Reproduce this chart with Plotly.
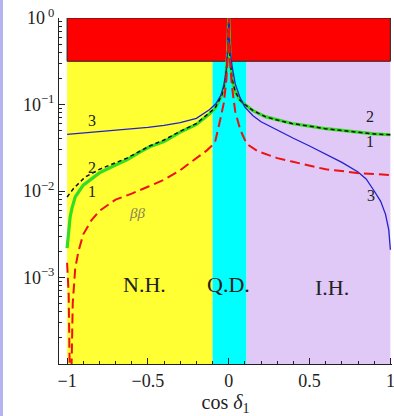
import math
import plotly.graph_objects as go

# ---- data -----------------------------------------------------------------
# curve 3 (blue)
x3 = [-1.0, -0.9, -0.8, -0.7, -0.6, -0.5, -0.4, -0.3, -0.2, -0.12, -0.08, -0.05,
      -0.03, -0.015, -0.006, -0.002, 0.0, 0.002, 0.006, 0.015, 0.02, 0.04, 0.07,
      0.1, 0.15, 0.2, 0.3, 0.4, 0.5, 0.6, 0.7, 0.8, 0.85, 0.9, 0.94, 0.97, 0.99, 1.0]
y3 = [0.0452, 0.0468, 0.0484, 0.0501, 0.0519, 0.0543, 0.0575, 0.0617, 0.0692, 0.0871,
      0.102, 0.126, 0.166, 0.251, 0.447, 0.794, 1.0, 0.794, 0.479, 0.331, 0.282,
      0.174, 0.120, 0.0933, 0.0741, 0.0631, 0.0501, 0.0407, 0.0331, 0.0269, 0.0214,
      0.0166, 0.0138, 0.0100, 0.00759, 0.00537, 0.00355, 0.00209]

# curve 1 (green)
x1 = [-1.0, -0.99, -0.981, -0.97, -0.95, -0.9, -0.8, -0.7, -0.63, -0.55, -0.49, -0.4,
      -0.3, -0.2, -0.12, -0.084, -0.042, -0.02, -0.008, -0.002, 0.0, 0.002, 0.008,
      0.02, 0.04, 0.07, 0.1, 0.15, 0.226, 0.3, 0.391, 0.5, 0.6, 0.7, 0.8, 0.9, 1.0]
y1 = [0.00219, 0.00355, 0.00501, 0.00631, 0.00851, 0.0117, 0.0162, 0.0200, 0.0229,
      0.0282, 0.0324, 0.0372, 0.0479, 0.0589, 0.0776, 0.0904, 0.129, 0.191, 0.355,
      0.708, 1.0, 0.708, 0.355, 0.200, 0.141, 0.112, 0.100, 0.0851, 0.0724, 0.0661,
      0.0603, 0.0562, 0.0525, 0.0501, 0.0479, 0.0457, 0.0447]

# curve 2 (black dashed)
x2 = [-1.0, -0.96, -0.9, -0.88, -0.8, -0.7, -0.63, -0.55, -0.49, -0.4, -0.3, -0.2,
      -0.12, -0.084, -0.042, -0.02, -0.008, -0.002, 0.0, 0.002, 0.008, 0.02, 0.04,
      0.07, 0.1, 0.15, 0.226, 0.3, 0.391, 0.5, 0.6, 0.7, 0.8, 0.9, 1.0]
y2 = [0.00851, 0.0107, 0.0138, 0.0148, 0.0178, 0.0214, 0.0240, 0.0288, 0.0331, 0.0389,
      0.0490, 0.0603, 0.0794, 0.0912, 0.129, 0.191, 0.355, 0.708, 1.0, 0.708, 0.355,
      0.200, 0.141, 0.112, 0.100, 0.0851, 0.0724, 0.0661, 0.0603, 0.0562, 0.0525,
      0.0501, 0.0479, 0.0457, 0.0447]

# beta-beta curve (red dashed)
xbb = [-1.0, -0.99, -0.982, -0.975, -0.965, -0.95, -0.93, -0.9, -0.85, -0.8, -0.7,
       -0.6, -0.5, -0.4, -0.3, -0.24, -0.18, -0.135, -0.1, -0.084, -0.053, -0.03,
       -0.015, -0.006, -0.002, 0.0, 0.002, 0.008, 0.02, 0.04, 0.071, 0.1, 0.122,
       0.18, 0.246, 0.3, 0.391, 0.5, 0.6, 0.7, 0.814, 0.9, 1.0]
ybb = [0.00148, 0.00063, 0.00005, 0.00005, 0.0005, 0.00126, 0.0020, 0.00316, 0.00457,
       0.00589, 0.00794, 0.00933, 0.0112, 0.0135, 0.0174, 0.0209, 0.0251, 0.0295,
       0.0339, 0.0372, 0.0661, 0.105, 0.191, 0.355, 0.661, 1.0, 0.631, 0.316, 0.162,
       0.0832, 0.0513, 0.0389, 0.0339, 0.0288, 0.0263, 0.0240, 0.0219, 0.0195, 0.0178,
       0.0170, 0.0160, 0.0157, 0.0153]

# shaded regions: (x0, x1, y0, y1, colour)
band_x0 = [-1.0, -0.1, 0.11, -1.0]
band_x1 = [-0.1, 0.11, 1.0, 1.0]
band_y0 = [1e-4, 1e-4, 1e-4, 0.316]
band_y1 = [0.316, 0.316, 0.316, 1.0]
band_col = ["#FFFF33", "#00FFFF", "#E0C8F7", "#FF0000"]

region_labels = ["N.H.", "Q.D.", "I.H."]
region_x = [-0.52, 0.0, 0.64]
region_y = [8.2e-4, 8.2e-4, 7.6e-4]

curve_labels = ["3", "2", "1", "2", "1", "3"]
curve_lx = [-0.845, -0.845, -0.845, 0.876, 0.876, 0.88]
curve_ly = [0.066, 0.0186, 0.0098, 0.072, 0.037, 0.0089]

ytick_vals = [1e-3, 1e-2, 1e-1, 1.0]
ytick_text = ["10<sup>−3</sup>", "10<sup>−2</sup>", "10<sup>−1</sup>", "10<sup> 0</sup>"]
xtick_vals = [-1, -0.5, 0, 0.5, 1]
xtick_text = ["−1", "−0.5", "0", "0.5", "1"]

SERIF = "Liberation Serif"

fig = go.Figure()

for a, b, c, d, col in zip(band_x0, band_x1, band_y0, band_y1, band_col):
    is_red = col == "#FF0000"
    fig.add_shape(type="rect", xref="x", yref="y", x0=a, x1=b, y0=c, y1=d,
                  fillcolor=col, layer="below",
                  line=dict(color="#222" if is_red else col, width=1 if is_red else 0))

fig.add_trace(go.Scatter(x=x1, y=y1, mode="lines",
                         line=dict(color="#33DD22", width=3.2), hoverinfo="skip"))
fig.add_trace(go.Scatter(x=x2, y=y2, mode="lines",
                         line=dict(color="#111111", width=1.5, dash="4px,3px"), hoverinfo="skip"))
fig.add_trace(go.Scatter(x=x3, y=y3, mode="lines",
                         line=dict(color="#2222CC", width=1.3), hoverinfo="skip"))
fig.add_trace(go.Scatter(x=xbb, y=ybb, mode="lines",
                         line=dict(color="#EE1111", width=2, dash="10px,5px"), hoverinfo="skip"))

for t, xx, yy in zip(region_labels, region_x, region_y):
    fig.add_annotation(x=xx, y=math.log10(yy), text=t, showarrow=False,
                       font=dict(family=SERIF, size=22, color="#222"))

for t, xx, yy in zip(curve_labels, curve_lx, curve_ly):
    fig.add_annotation(x=xx, y=math.log10(yy), text=t, showarrow=False,
                       font=dict(family=SERIF, size=16, color="#222"))

fig.add_annotation(x=-0.57, y=math.log10(0.0055), text="<i>ββ</i>", showarrow=False,
                   font=dict(family=SERIF, size=15, color="#8a8258"))

# thin lavender frame line at the left edge of the page
fig.add_shape(type="rect", xref="paper", yref="paper",
              x0=-59 / 333, x1=-56 / 333, y0=-52 / 346, y1=1 + 18 / 346,
              fillcolor="#B4B4F0", line=dict(width=0))

fig.update_layout(
    width=394, height=416,
    margin=dict(l=59, r=2, t=18, b=52),
    paper_bgcolor="white", plot_bgcolor="white",
    showlegend=False,
    font=dict(family=SERIF, size=18, color="#222"),
)
fig.update_xaxes(
    range=[-1.05, 1.01], showgrid=False, zeroline=False,
    showline=True, linecolor="#222", linewidth=1,
    ticks="inside", ticklen=6, tickcolor="#222",
    tickvals=xtick_vals, ticktext=xtick_text,
    ticklabeloverflow="allow", automargin=False,
    minor=dict(ticks="inside", ticklen=3, tickcolor="#222",
               tickvals=[v / 10 for v in range(-9, 10) if v % 5 != 0]),
    title=dict(text="cos <i>δ</i><sub>1</sub>", font=dict(family=SERIF, size=20), standoff=2),
)
fig.update_yaxes(
    type="log", range=[-4, 0], showgrid=False, zeroline=False,
    showline=True, linecolor="#222", linewidth=1,
    ticks="inside", ticklen=6, tickcolor="#222",
    tickvals=ytick_vals, ticktext=ytick_text,
    minor=dict(ticks="inside", ticklen=3, tickcolor="#222",
               tickvals=[m * 10 ** e for e in range(-4, 0) for m in range(2, 10)]),
)

fig.write_html("out.html")
